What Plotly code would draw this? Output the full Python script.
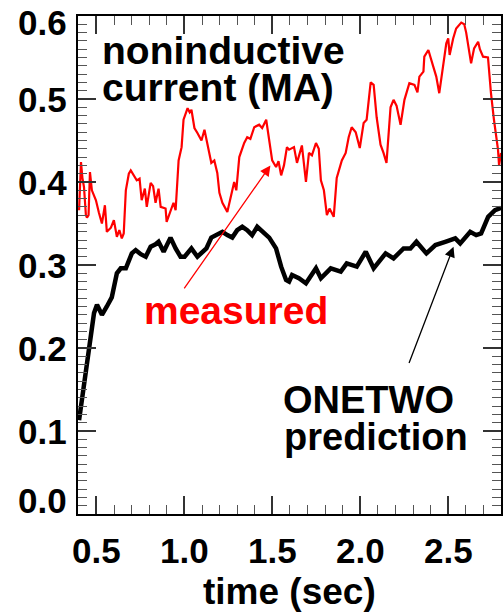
import plotly.graph_objects as go

# Measured noninductive current (MA) vs time (sec)
meas_t = [0.401, 0.412, 0.420, 0.429, 0.440, 0.446, 0.455, 0.463, 0.474, 0.497,
          0.514, 0.531, 0.548, 0.559, 0.582, 0.599, 0.616, 0.630, 0.644, 0.655,
          0.667, 0.684, 0.695, 0.712, 0.729, 0.745, 0.757, 0.775, 0.786, 0.808,
          0.822, 0.836, 0.853, 0.865, 0.893, 0.899, 0.921, 0.938, 0.950, 0.967,
          0.984, 0.995, 1.018, 1.030, 1.040, 1.057, 1.074, 1.097, 1.114, 1.131,
          1.153, 1.170, 1.187, 1.199, 1.216, 1.244, 1.267, 1.283, 1.295, 1.312,
          1.340, 1.357, 1.375, 1.397, 1.425, 1.442, 1.465, 1.482, 1.499, 1.521,
          1.535, 1.550, 1.566, 1.583, 1.595, 1.623, 1.640, 1.668, 1.691, 1.708,
          1.725, 1.748, 1.764, 1.776, 1.793, 1.810, 1.825, 1.849, 1.866, 1.895,
          1.917, 1.934, 1.951, 1.974, 1.997, 2.019, 2.036, 2.059, 2.076, 2.093,
          2.115, 2.132, 2.149, 2.172, 2.189, 2.206, 2.229, 2.251, 2.279, 2.308,
          2.325, 2.336, 2.359, 2.364, 2.387, 2.415, 2.432, 2.449, 2.465, 2.489,
          2.500, 2.508, 2.528, 2.545, 2.574, 2.591, 2.602, 2.630, 2.647, 2.670,
          2.680, 2.698, 2.726, 2.743, 2.760, 2.772, 2.783, 2.789, 2.800]
meas_i = [0.366, 0.424, 0.405, 0.394, 0.360, 0.357, 0.360, 0.412, 0.390, 0.378,
          0.363, 0.350, 0.372, 0.340, 0.345, 0.354, 0.334, 0.342, 0.332, 0.338,
          0.390, 0.410, 0.414, 0.408, 0.402, 0.404, 0.378, 0.392, 0.370, 0.399,
          0.395, 0.375, 0.392, 0.370, 0.368, 0.352, 0.366, 0.375, 0.366, 0.426,
          0.442, 0.475, 0.489, 0.484, 0.487, 0.465, 0.459, 0.450, 0.463, 0.447,
          0.423, 0.426, 0.411, 0.387, 0.375, 0.364, 0.387, 0.400, 0.390, 0.430,
          0.447, 0.454, 0.452, 0.466, 0.469, 0.465, 0.475, 0.451, 0.426, 0.418,
          0.425, 0.408, 0.420, 0.442, 0.439, 0.442, 0.423, 0.444, 0.400, 0.435,
          0.432, 0.447, 0.440, 0.402, 0.390, 0.360, 0.368, 0.358, 0.405, 0.426,
          0.435, 0.454, 0.466, 0.460, 0.441, 0.471, 0.475, 0.520, 0.517, 0.478,
          0.445, 0.435, 0.423, 0.490, 0.499, 0.492, 0.469, 0.499, 0.519, 0.517,
          0.508, 0.527, 0.533, 0.551, 0.559, 0.539, 0.527, 0.507, 0.530, 0.567,
          0.573, 0.553, 0.573, 0.585, 0.592, 0.590, 0.580, 0.543, 0.561, 0.569,
          0.560, 0.551, 0.550, 0.507, 0.475, 0.454, 0.439, 0.420, 0.435]

# ONETWO predicted noninductive current (MA)
pred_t = [0.401, 0.429, 0.457, 0.486, 0.503, 0.531, 0.559, 0.587, 0.616, 0.638,
          0.667, 0.701, 0.723, 0.752, 0.780, 0.808, 0.836, 0.853, 0.882, 0.921,
          0.950, 0.978, 1.001, 1.040, 1.074, 1.125, 1.153, 1.182, 1.216, 1.244,
          1.272, 1.300, 1.329, 1.357, 1.385, 1.414, 1.442, 1.482, 1.521, 1.550,
          1.578, 1.595, 1.612, 1.651, 1.691, 1.719, 1.748, 1.776, 1.832, 1.889,
          1.923, 1.980, 2.031, 2.076, 2.144, 2.189, 2.246, 2.285, 2.319, 2.376,
          2.427, 2.483, 2.540, 2.568, 2.625, 2.659, 2.687, 2.727, 2.766, 2.800]
pred_i = [0.113, 0.153, 0.201, 0.242, 0.252, 0.240, 0.250, 0.261, 0.290, 0.296,
          0.296, 0.314, 0.318, 0.313, 0.310, 0.322, 0.325, 0.328, 0.316, 0.333,
          0.320, 0.310, 0.310, 0.320, 0.310, 0.320, 0.333, 0.336, 0.340, 0.336,
          0.333, 0.342, 0.346, 0.342, 0.336, 0.346, 0.340, 0.333, 0.320, 0.298,
          0.282, 0.280, 0.288, 0.284, 0.278, 0.286, 0.296, 0.284, 0.296, 0.292,
          0.302, 0.298, 0.316, 0.296, 0.314, 0.308, 0.320, 0.320, 0.328, 0.314,
          0.324, 0.328, 0.332, 0.326, 0.340, 0.336, 0.338, 0.358, 0.366, 0.369]

x_tick_vals = [0.5, 1.0, 1.5, 2.0, 2.5]
x_tick_text = ["0.5", "1.0", "1.5", "2.0", "2.5"]
y_tick_vals = [0.0, 0.1, 0.2, 0.3, 0.4, 0.5, 0.6]
y_tick_text = ["0.0", "0.1", "0.2", "0.3", "0.4", "0.5", "0.6"]

FONT = "Liberation Sans, Arial, Helvetica, sans-serif"
RED = "#ff0000"

fig = go.Figure()
fig.add_trace(go.Scatter(x=meas_t, y=meas_i, mode="lines",
                         line=dict(color=RED, width=2.2), showlegend=False))
fig.add_trace(go.Scatter(x=pred_t, y=pred_i, mode="lines",
                         line=dict(color="black", width=4.5), showlegend=False))

axis_common = dict(
    showline=True, linecolor="black", linewidth=1.5, mirror="ticks",
    ticks="inside", ticklen=18, tickwidth=1.5, tickcolor="#333333",
    showticklabels=False, showgrid=False, zeroline=False,
)
fig.update_xaxes(range=[0.395, 2.8], tick0=0.5, dtick=0.5,
                 minor=dict(dtick=0.1, ticklen=9, tickwidth=1.2,
                            tickcolor="#555555", ticks="inside", showgrid=False),
                 **axis_common)
fig.update_yaxes(range=[0.0, 0.6], tick0=0.0, dtick=0.1,
                 minor=dict(dtick=0.01, ticklen=9, tickwidth=1.2,
                            tickcolor="#555555", ticks="inside", showgrid=False),
                 **axis_common)

ann = []
# x tick labels
for v, s in zip(x_tick_vals, x_tick_text):
    ann.append(dict(x=v, y=0, xref="x", yref="paper", text=f"<b>{s}</b>",
                    showarrow=False, xanchor="center", yanchor="middle",
                    yshift=-36, font=dict(family=FONT, size=35, color="black")))
# y tick labels (end labels nudged inward)
y_nudge = {0.0: 14, 0.6: -6}
for v, s in zip(y_tick_vals, y_tick_text):
    ann.append(dict(x=0, y=v, xref="paper", yref="y", text=f"<b>{s}</b>",
                    showarrow=False, xanchor="right", yanchor="middle",
                    xshift=-9, yshift=y_nudge.get(v, 0),
                    font=dict(family=FONT, size=35, color="black")))
# axis title
ann.append(dict(x=1.6, y=0, xref="x", yref="paper", text="<b>time (sec)</b>",
                showarrow=False, xanchor="center", yanchor="middle", yshift=-77,
                font=dict(family=FONT, size=37, color="black")))
# panel label
ann.append(dict(x=0.52, y=0.559, xref="x", yref="y", text="<b>noninductive</b>",
                showarrow=False, xanchor="left", yanchor="middle",
                font=dict(family=FONT, size=39, color="black")))
ann.append(dict(x=0.52, y=0.514, xref="x", yref="y", text="<b>current (MA)</b>",
                showarrow=False, xanchor="left", yanchor="middle",
                font=dict(family=FONT, size=39, color="black")))
# curve labels
ann.append(dict(x=1.295, y=0.2446, xref="x", yref="y", text="<b>measured</b>",
                showarrow=False, xanchor="center", yanchor="middle",
                font=dict(family=FONT, size=39, color=RED)))
ann.append(dict(x=1.549, y=0.137, xref="x", yref="y", text="<b>ONETWO</b>",
                showarrow=False, xanchor="left", yanchor="middle",
                font=dict(family=FONT, size=38, color="black")))
ann.append(dict(x=1.552, y=0.093, xref="x", yref="y", text="<b>prediction</b>",
                showarrow=False, xanchor="left", yanchor="middle",
                font=dict(family=FONT, size=38, color="black")))
# pointer arrows
ann.append(dict(x=1.489, y=0.420, ax=0.993, ay=0.270, xref="x", yref="y",
                axref="x", ayref="y", text="", showarrow=True, arrowhead=2,
                arrowsize=1.6, arrowwidth=1.3, arrowcolor=RED))
ann.append(dict(x=2.530, y=0.322, ax=2.274, ay=0.180, xref="x", yref="y",
                axref="x", ayref="y", text="", showarrow=True, arrowhead=2,
                arrowsize=1.6, arrowwidth=1.3, arrowcolor="black"))

fig.update_layout(
    width=503, height=612,
    margin=dict(l=78, r=0, t=16, b=98),
    paper_bgcolor="white", plot_bgcolor="white",
    annotations=ann, showlegend=False,
)

fig.write_html("out.html")
